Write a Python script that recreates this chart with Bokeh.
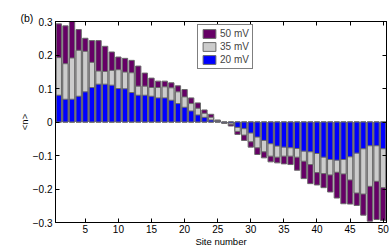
from bokeh.plotting import figure
from bokeh.models import (ColumnDataSource, LinearAxis, FixedTicker, CustomJSTickFormatter,
                          Legend, LegendItem, Range1d)
from bokeh.embed import file_html
from bokeh.resources import INLINE

sites = list(range(1, 51))
v50 = [0.293, 0.287, 0.300, 0.276, 0.250, 0.243, 0.243, 0.226, 0.209, 0.194,
       0.190, 0.184, 0.167, 0.146, 0.131, 0.122, 0.122, 0.117, 0.108, 0.097,
       0.072, 0.057, 0.036, 0.023, 0.006, -0.004, -0.012, -0.037, -0.055, -0.075,
       -0.097, -0.107, -0.119, -0.122, -0.125, -0.127, -0.144, -0.169, -0.184, -0.188,
       -0.196, -0.209, -0.227, -0.244, -0.245, -0.249, -0.278, -0.296, -0.291, -0.294]
v35 = [0.192, 0.174, 0.191, 0.214, 0.211, 0.178, 0.152, 0.151, 0.154, 0.156,
       0.149, 0.147, 0.107, 0.107, 0.103, 0.103, 0.105, 0.102, 0.090, 0.075,
       0.055, 0.041, 0.026, 0.014, 0.004, -0.003, -0.007, -0.028, -0.039, -0.059,
       -0.077, -0.089, -0.102, -0.105, -0.102, -0.102, -0.105, -0.117, -0.127, -0.151,
       -0.154, -0.158, -0.150, -0.155, -0.173, -0.212, -0.215, -0.192, -0.177, -0.196]
v20 = [0.080, 0.068, 0.068, 0.077, 0.090, 0.103, 0.113, 0.113, 0.110, 0.100,
       0.099, 0.088, 0.080, 0.080, 0.077, 0.072, 0.072, 0.065, 0.055, 0.044,
       0.033, 0.021, 0.014, 0.006, 0.002, -0.002, -0.003, -0.016, -0.020, -0.033,
       -0.045, -0.055, -0.065, -0.072, -0.075, -0.077, -0.079, -0.087, -0.089, -0.094,
       -0.105, -0.112, -0.114, -0.112, -0.104, -0.093, -0.080, -0.071, -0.071, -0.080]
series_labels = ["50 mV", "35 mV", "20 mV"]
colors = ["#660066", "#cccccc", "#0000ff"]
x_ticks = [5, 10, 15, 20, 25, 30, 35, 40, 45, 50]
y_ticks = [-0.3, -0.2, -0.1, 0, 0.1, 0.2, 0.3]
panel_tag = "(b)"

FONT = "Liberation Sans"

p = figure(width=390, height=249, output_backend="svg", toolbar_location=None,
           x_range=Range1d(0.5, 50.5), y_range=Range1d(-0.3, 0.3),
           min_border_left=55, min_border_right=4, min_border_top=21, min_border_bottom=24,
           title=panel_tag)
p.background_fill_color = "white"
p.border_fill_color = "white"
p.outline_line_color = "black"
p.grid.visible = False

p.title.align = "left"
p.title.offset = -35
p.title.standoff = -4
p.title.text_font = FONT
p.title.text_font_size = "10.5px"
p.title.text_font_style = "normal"
p.title.text_color = "black"

src = ColumnDataSource(dict(x=sites, v50=v50, v35=v35, v20=v20))
renderers = []
for col, c in zip(["v50", "v35", "v20"], colors):
    r = p.vbar(x="x", top=col, bottom=0, width=0.8, source=src,
               fill_color=c, line_color="#6a6a6a", line_width=1)
    renderers.append(r)

fmt = CustomJSTickFormatter(code="""
if (Math.abs(tick) < 1e-9) return "0";
var s = Math.abs(tick).toFixed(1);
return tick < 0 ? "\u2212" + s : s;
""")

def style_axis(ax, labels=True):
    ax.major_tick_in = 4
    ax.major_tick_out = 0
    ax.minor_tick_line_color = None
    ax.axis_line_color = "black"
    ax.major_tick_line_color = "black"
    ax.major_label_text_font = FONT
    if labels:
        ax.major_label_text_color = "black"
        ax.major_label_text_font_size = "10px"
        ax.major_label_standoff = 3
    else:
        ax.major_label_text_color = None
        ax.major_label_text_font_size = "0px"
        ax.major_label_standoff = 0

p.xaxis.ticker = FixedTicker(ticks=x_ticks)
p.yaxis.ticker = FixedTicker(ticks=y_ticks)
p.yaxis.formatter = fmt
style_axis(p.xaxis[0])
style_axis(p.yaxis[0])
p.xaxis.major_label_standoff = 2
p.xaxis.axis_label = "Site number"
p.yaxis.axis_label = "<n>"
for ax in (p.xaxis[0], p.yaxis[0]):
    ax.axis_label_text_font = FONT
    ax.axis_label_text_font_size = "9.5px"
    ax.axis_label_text_font_style = "normal"
    ax.axis_label_text_color = "black"
p.xaxis.axis_label_standoff = 0
p.yaxis.axis_label_standoff = 0

top_ax = LinearAxis(ticker=FixedTicker(ticks=x_ticks))
style_axis(top_ax, labels=False)
p.add_layout(top_ax, "above")
right_ax = LinearAxis(ticker=FixedTicker(ticks=y_ticks))
style_axis(right_ax, labels=False)
p.add_layout(right_ax, "right")

legend = Legend(items=[LegendItem(label=l, renderers=[r]) for l, r in zip(series_labels, renderers)],
                location=(142, 153), label_text_font=FONT, label_text_font_size="10px",
                glyph_width=16, glyph_height=11, label_height=11, spacing=2,
                padding=3, margin=0, label_standoff=3,
                border_line_color="black", border_line_width=1,
                background_fill_color="white", background_fill_alpha=1)
p.add_layout(legend)

open("out.html", "w").write(file_html(p, INLINE))
